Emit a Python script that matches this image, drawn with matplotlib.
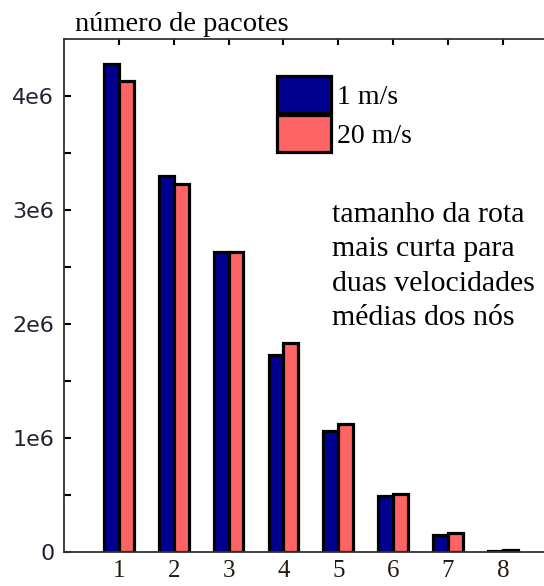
import numpy as np
import matplotlib.pyplot as plt
from matplotlib.ticker import FixedLocator

# tamanho da rota (saltos)
hops = [1, 2, 3, 4, 5, 6, 7, 8]
# numero de pacotes para cada velocidade media
pkts_1ms = [4.28e6, 3.30e6, 2.63e6, 1.73e6, 1.06e6, 0.49e6, 0.15e6, 0.01e6]
pkts_20ms = [4.13e6, 3.23e6, 2.63e6, 1.83e6, 1.12e6, 0.51e6, 0.17e6, 0.02e6]
labels = ['1 m/s', '20 m/s']
ytick_vals = [0, 1e6, 2e6, 3e6, 4e6]
ytick_text = ['0', '1e6', '2e6', '3e6', '4e6']

serif = ['Liberation Serif', 'DejaVu Serif']

fig = plt.figure(figsize=[5.44, 5.86], dpi=100)
ax = fig.add_axes([64/544, 1-552/586, 1-64/544, (552-39)/586])

x = np.array(hops)
w = 0.27
ax.bar(x - w/2, pkts_1ms, w, color='#000090', edgecolor='black', linewidth=2.3, label=labels[0])
ax.bar(x + w/2, pkts_20ms, w, color='#FF6464', edgecolor='black', linewidth=2.3, label=labels[1])

ax.set_xlim(0, 8.75)
ax.set_ylim(0, 4.5e6)

ax.set_xticks(hops)
ax.set_xticklabels([str(h) for h in hops], fontfamily=serif, fontsize=18, color='#221a10')
ax.tick_params(axis='x', which='both', bottom=False, top=True, direction='in',
               length=4, width=1.5, pad=6, labelbottom=True)

ax.yaxis.set_major_locator(FixedLocator(ytick_vals))
ax.yaxis.set_minor_locator(FixedLocator(np.arange(0.5e6, 4.5e6, 1e6)))
ax.set_yticklabels(ytick_text, fontsize=16, color='#222233')
ax.tick_params(axis='y', which='both', direction='in', length=5, width=1.5, pad=7)

ax.spines['right'].set_visible(False)
for s in ['left', 'top', 'bottom']:
    ax.spines[s].set_linewidth(1.3)
    ax.spines[s].set_color('#333333')

ax.legend(loc='upper left', bbox_to_anchor=(277/544, 1-76/586), bbox_transform=fig.transFigure,
          frameon=False, prop={'family': serif, 'size': 20}, handlelength=1.95,
          handleheight=1.70, labelspacing=0.05, handletextpad=0.2, borderpad=0, borderaxespad=0)

fig.text(75/544, 1-37/586, 'número de pacotes', fontfamily=serif, fontsize=20.5, va='bottom')
fig.text(332/544, 1-202/586, 'tamanho da rota\nmais curta para\nduas velocidades\nmédias dos nós',
         fontfamily=serif, fontsize=21.5, va='top', linespacing=1.42)

plt.savefig('out.png', dpi=100)
